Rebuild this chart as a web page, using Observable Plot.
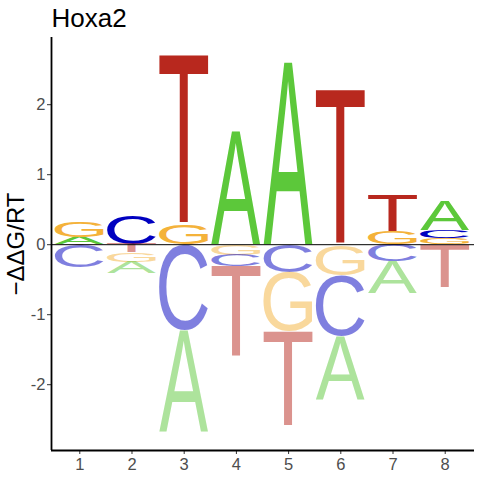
<!DOCTYPE html>
<html>
<head>
<meta charset="utf-8">
<script src="https://cdn.jsdelivr.net/npm/d3@7"></script>
<script src="https://cdn.jsdelivr.net/npm/@observablehq/plot@0.6"></script>
<style>
  html, body { margin: 0; padding: 0; background: #fff; }
</style>
</head>
<body>
<div id="chart"></div>
<script>
// ---- data ----
const title = "Hoxa2";
const yLabel = "\u2212\u0394\u0394G/RT";
const positions = [1, 2, 3, 4, 5, 6, 7, 8];
const bases = ["A", "C", "G", "T"];
const valuesA = [0.10, -0.16, -1.45, 1.61, 2.60, -0.90, -0.46, 0.42];
const valuesC = [-0.32, 0.41, -1.23, -0.16, -0.40, -0.87, -0.24, 0.12];
const valuesG = [0.23, -0.13, 0.28, -0.15, -0.84, -0.44, 0.18, 0.09];
const valuesT = [-0.01, -0.12, 2.41, -1.30, -1.36, 2.21, 0.52, -0.62];
const yTicks = [-2, -1, 0, 1, 2];
const xTicks = [1, 2, 3, 4, 5, 6, 7, 8];
const baseColors = {A: "#5CC83A", C: "#0000C0", G: "#F4B23A", T: "#B8281E"};
const xDomain = [0.458, 8.561];
const yDomain = [-2.94, 2.96];
const letterWidth = 0.94;

// ---- build stacked table ----
const valueByBase = {A: valuesA, C: valuesC, G: valuesG, T: valuesT};
const stacked = [];
positions.forEach((p, j) => {
  const entries = bases.map(b => ({base: b, value: valueByBase[b][j]}));
  const pos = entries.filter(e => e.value > 0).sort((a, b) => a.value - b.value);
  const neg = entries.filter(e => e.value < 0).sort((a, b) => b.value - a.value);
  let acc = 0;
  for (const e of pos) { stacked.push({position: p, base: e.base, value: e.value, y1: acc, y2: acc + e.value}); acc += e.value; }
  acc = 0;
  for (const e of neg) { stacked.push({position: p, base: e.base, value: e.value, y1: acc, y2: acc + e.value}); acc += e.value; }
});

// ---- measure letter ink bounds ----
const FONT = "Liberation Sans, Arial, Helvetica, sans-serif";
const canvas = document.createElement("canvas");
const ctx = canvas.getContext("2d");
ctx.font = `100px ${FONT}`;
ctx.textAlign = "left";
ctx.textBaseline = "alphabetic";
const ink = {};
for (const b of bases) {
  const m = ctx.measureText(b);
  ink[b] = {
    left: -m.actualBoundingBoxLeft,
    right: m.actualBoundingBoxRight,
    top: -m.actualBoundingBoxAscent,
    bottom: m.actualBoundingBoxDescent
  };
}

function letterRender(index, scales, values, dimensions, context) {
  const doc = context.document;
  const ns = "http://www.w3.org/2000/svg";
  const g = doc.createElementNS(ns, "g");
  const {x1: X1, x2: X2, y1: Y1, y2: Y2} = values;
  for (const i of index) {
    const d = stacked[i];
    const xa = Math.min(X1[i], X2[i]), xb = Math.max(X1[i], X2[i]);
    const ya = Math.min(Y1[i], Y2[i]), yb = Math.max(Y1[i], Y2[i]);
    const w = xb - xa, h = yb - ya;
    if (h <= 0.01) continue;
    const k = ink[d.base];
    const sx = w / (k.right - k.left), sy = h / (k.bottom - k.top);
    const t = doc.createElementNS(ns, "text");
    t.setAttribute("x", 0);
    t.setAttribute("y", 0);
    t.setAttribute("font-size", 100);
    t.setAttribute("font-family", FONT);
    t.setAttribute("text-anchor", "start");
    t.setAttribute("dominant-baseline", "alphabetic");
    t.setAttribute("fill", baseColors[d.base]);
    if (d.value < 0) t.setAttribute("fill-opacity", 0.5);
    t.setAttribute("transform", `translate(${xa},${ya}) scale(${sx},${sy}) translate(${-k.left},${-k.top})`);
    t.textContent = d.base;
    g.appendChild(t);
  }
  return g;
}

const fmt = d => String(d);

const chart = Plot.plot({
  width: 480,
  height: 480,
  marginTop: 37,
  marginBottom: 30,
  marginLeft: 51,
  marginRight: 6,
  style: {fontFamily: FONT, background: "#fff"},
  x: {domain: xDomain},
  y: {domain: yDomain},
  marks: [
    Plot.rect(stacked, {
      x1: d => d.position - letterWidth / 2,
      x2: d => d.position + letterWidth / 2,
      y1: "y1",
      y2: "y2",
      fill: d => baseColors[d.base],
      render: letterRender
    }),
    Plot.ruleY([0], {stroke: "#000", strokeWidth: 1}),
    Plot.axisY(yTicks, {tickSize: 4, tickPadding: 2, fontSize: 16.5, tickFormat: fmt, stroke: "#333", strokeWidth: 1, color: "#4D4D4D", label: null}),
    Plot.axisX(xTicks, {tickSize: 4, tickPadding: 4, fontSize: 16.5, tickFormat: fmt, stroke: "#333", strokeWidth: 1, color: "#4D4D4D", label: null}),
    Plot.ruleX([xDomain[0]], {stroke: "#000", strokeWidth: 1.8}),
    Plot.ruleY([yDomain[0]], {stroke: "#000", strokeWidth: 1.8}),
    Plot.text([title], {frameAnchor: "top-left", lineAnchor: "bottom", textAnchor: "start", dy: -10.3, fontSize: 26, fill: "#000"}),
    Plot.text([yLabel], {frameAnchor: "left", textAnchor: "middle", lineAnchor: "middle", dx: -35, rotate: -90, fontSize: 24, fill: "#000"})
  ]
});
document.getElementById("chart").appendChild(chart);
</script>
</body>
</html>
